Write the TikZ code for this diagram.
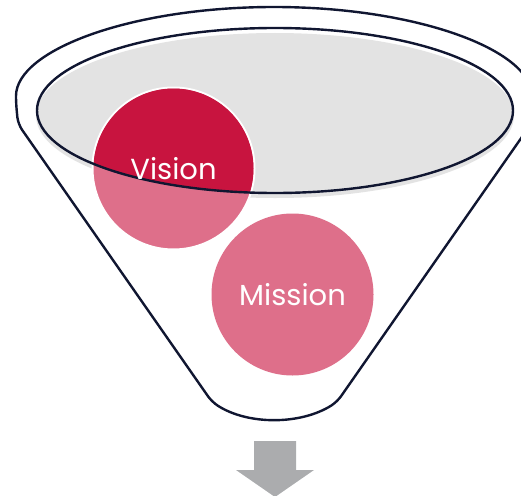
\documentclass[tikz,border=0pt]{standalone}
\usepackage{fontspec}
\setmainfont{Poppins}

\definecolor{visionred}{HTML}{C8143F}
\definecolor{missionpink}{HTML}{DE6F8A}
\definecolor{surfacegray}{HTML}{E3E3E3}
\definecolor{funnelline}{HTML}{101631}
\definecolor{arrowgray}{HTML}{ABACAE}

\begin{document}
\begin{tikzpicture}[x=1pt, y=-1pt,
		funnel/.style={draw=funnelline, line width=2.4pt, line join=round},
		bubble/.style={circle, minimum size=162pt, inner sep=0pt, text=white,
			font=\fontsize{29}{34}\selectfont}]
		\useasboundingbox (0,0) rectangle (521,495);

		\coordinate (rim) at (274,103);
		\coordinate (surface) at (275,110.5);
		\coordinate (l_top) at (16,103);
		\coordinate (l_knee) at (18,124);
		\coordinate (l_base) at (212,402);
		\coordinate (r_knee) at (531,124);
		\coordinate (r_base) at (337,402);

		% imbuto
		\draw[funnel, fill=white, rounded corners=7pt] (l_top)
			arc[start angle=180, end angle=0, x radius=258pt, y radius=96pt]
			-- (r_knee) -- (r_base) .. controls (300,425) and (248,425) .. (l_base)
			-- (l_knee) -- cycle;

		% superficie
		\fill[surfacegray] ([yshift=-5pt]surface) ellipse[x radius=239pt, y radius=82.5pt];

		% cerchi
		\node[bubble, fill=missionpink, draw=white, line width=2pt] (vision) at (173.5,168.5) {};
		\begin{scope}
			\clip (surface) ellipse[x radius=238pt, y radius=82.5pt];
			\fill[visionred] (vision) circle[radius=80pt];
		\end{scope}
		\draw[funnel] (surface) ellipse[x radius=238pt, y radius=82.5pt];
		\node[bubble] at (vision) {Vision};

		\node[bubble, fill=missionpink] (mission) at (292.5,294.5) {Mission};

		% freccia
		\fill[arrowgray] (254,441) -- (296,441) -- (296,470) -- (314,470)
			-- (275,497) -- (236,470) -- (254,470) -- cycle;
	\end{tikzpicture}
\end{document}
